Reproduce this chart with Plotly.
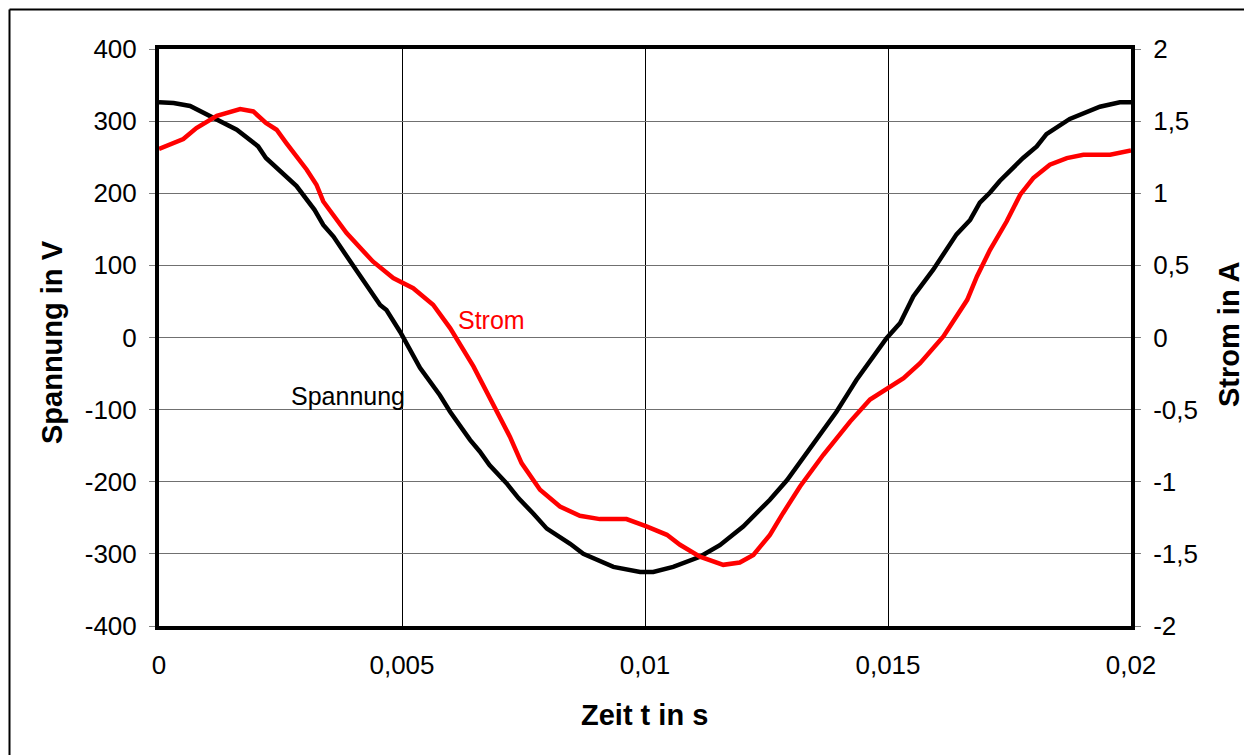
import plotly.graph_objects as go

# ---------------- data ----------------
zeit_spannung = [0, 0.0003, 0.00064, 0.00119, 0.0016, 0.00204, 0.0022, 0.00283, 0.0032, 0.00338,
                 0.00359, 0.004, 0.00455, 0.00468, 0.00496, 0.00537, 0.00578, 0.00599, 0.0064, 0.0066,
                 0.0068, 0.00715, 0.0074, 0.0077, 0.00798, 0.00846, 0.00873, 0.00935, 0.0099, 0.01017,
                 0.01058, 0.01113, 0.01154, 0.01202, 0.01257, 0.01292, 0.01353, 0.01394, 0.01422, 0.01435,
                 0.01497, 0.01525, 0.01552, 0.01593, 0.01641, 0.01669, 0.01689, 0.0171, 0.0173, 0.01778,
                 0.01806, 0.01826, 0.01874, 0.01936, 0.01977, 0.02]
spannung = [326, 325, 321, 303, 288, 265, 249, 210, 177, 156,
            140, 99, 45, 38, 8, -42, -80, -103, -142, -158,
            -177, -202, -223, -244, -265, -286, -300, -318, -325, -325,
            -318, -304, -288, -262, -225, -198, -142, -103, -73, -59,
            -1, 20, 57, 94, 143, 163, 187, 201, 217, 249,
            265, 282, 303, 320, 326, 326]

zeit_strom = [0, 0.0005, 0.00077, 0.00119, 0.00167, 0.00194, 0.0022, 0.00242, 0.00262, 0.00304,
              0.00324, 0.00338, 0.00386, 0.0044, 0.00482, 0.00523, 0.00564, 0.00599, 0.00647, 0.00702,
              0.00722, 0.00746, 0.00784, 0.00825, 0.00866, 0.00907, 0.00962, 0.01003, 0.01045, 0.01072,
              0.01113, 0.01161, 0.01195, 0.01223, 0.01257, 0.01284, 0.01319, 0.01367, 0.01422, 0.01463,
              0.01497, 0.01532, 0.01566, 0.01614, 0.01663, 0.01683, 0.0171, 0.01744, 0.01772, 0.01799,
              0.01833, 0.01868, 0.01902, 0.01957, 0.02]
strom = [1.307, 1.376, 1.452, 1.537, 1.584, 1.567, 1.487, 1.44, 1.348, 1.163,
         1.059, 0.943, 0.724, 0.527, 0.412, 0.342, 0.227, 0.065, -0.2, -0.548,
         -0.687, -0.871, -1.056, -1.172, -1.236, -1.259, -1.259, -1.31, -1.368, -1.437,
         -1.519, -1.576, -1.56, -1.507, -1.368, -1.218, -1.033, -0.813, -0.583, -0.43,
         -0.36, -0.282, -0.178, 0.007, 0.261, 0.423, 0.608, 0.804, 0.99, 1.105,
         1.198, 1.244, 1.267, 1.267, 1.297]

x_tickvals = [0, 0.005, 0.01, 0.015, 0.02]
x_ticktext = ["0", "0,005", "0,01", "0,015", "0,02"]
y_tickvals = [400, 300, 200, 100, 0, -100, -200, -300, -400]
y_ticktext = ["400", "300", "200", "100", "0", "-100", "-200", "-300", "-400"]
y2_tickvals = [2, 1.5, 1, 0.5, 0, -0.5, -1, -1.5, -2]
y2_ticktext = ["2", "1,5", "1", "0,5", "0", "-0,5", "-1", "-1,5", "-2"]

# ---------------- layout geometry ----------------
W, H = 1252, 755
OFF = 8  # page body margin: figure is drawn 8px right/down in the window
# target screen pixel positions of the plot area
SL, SR, ST, SB = 159, 1131, 49, 626
L, R, T, B = SL - OFF, SR - OFF, ST - OFF, SB - OFF
FONT = "Liberation Sans, Arial, sans-serif"


def px_x(p):  # screen pixel -> paper
    return (p - OFF - L) / (R - L)


def px_y(p):
    return (B - (p - OFF)) / (B - T)


fig = go.Figure()
fig.add_trace(go.Scatter(x=zeit_spannung, y=spannung, mode="lines", name="Spannung",
                         line=dict(color="black", width=4.5), yaxis="y"))
fig.add_trace(go.Scatter(x=zeit_strom, y=strom, mode="lines", name="Strom",
                         line=dict(color="#ff0000", width=4.5), yaxis="y2"))

fig.update_layout(
    width=W, height=H, autosize=False,
    margin=dict(l=L, r=W - R, t=T, b=H - B, pad=0),
    paper_bgcolor="white", plot_bgcolor="white",
    showlegend=False,
    font=dict(family=FONT, size=26, color="black"),
    xaxis=dict(range=[0, 0.02], tickvals=x_tickvals, ticktext=x_ticktext,
               showgrid=True, gridcolor="black", gridwidth=1,
               showline=True, linecolor="black", linewidth=4, mirror=True,
               ticks="", ticklabelstandoff=13, zeroline=False,
               tickfont=dict(size=26)),
    yaxis=dict(range=[-400, 400], tickvals=y_tickvals, ticktext=y_ticktext,
               showgrid=True, gridcolor="#707070", gridwidth=1,
               showline=True, linecolor="black", linewidth=4, mirror=True,
               ticks="outside", ticklen=6, tickcolor="#808080", tickwidth=1,
               ticklabelstandoff=7, zeroline=False,
               tickfont=dict(size=26)),
    yaxis2=dict(range=[-2, 2], tickvals=y2_tickvals, ticktext=y2_ticktext,
                overlaying="y", side="right", showgrid=False,
                showline=True, linecolor="black", linewidth=4,
                ticks="outside", ticklen=6, tickcolor="#808080", tickwidth=1,
                ticklabelstandoff=7, zeroline=False,
                tickfont=dict(size=26)),
)

annotations = [
    dict(text="Spannung in V", x=px_x(52), y=px_y(342), textangle=-90,
         font=dict(size=29, family=FONT, weight="bold")),
    dict(text="Strom in A", x=px_x(1229), y=px_y(334), textangle=-90,
         font=dict(size=29, family=FONT, weight="bold")),
    dict(text="Zeit t in s", x=px_x(644), y=px_y(715),
         font=dict(size=29, family=FONT, weight="bold")),
    dict(text="Strom", x=px_x(491), y=px_y(320),
         font=dict(size=25, family=FONT, color="#ff0000")),
    dict(text="Spannung", x=px_x(348), y=px_y(396),
         font=dict(size=25, family=FONT, color="black")),
]
for a in annotations:
    a.update(xref="paper", yref="paper", showarrow=False, xanchor="center", yanchor="middle")
fig.update_layout(annotations=annotations)

# outer frame (left and top edges visible); top edge kept inside the figure area
FRAME_TOP = OFF + 1.5
fig.add_shape(type="line", xref="paper", yref="paper",
              x0=px_x(9.5), x1=px_x(9.5), y0=px_y(FRAME_TOP), y1=px_y(770),
              line=dict(color="black", width=2))
fig.add_shape(type="line", xref="paper", yref="paper",
              x0=px_x(9.5), x1=px_x(1270), y0=px_y(FRAME_TOP), y1=px_y(FRAME_TOP),
              line=dict(color="black", width=2))

fig.write_html("out.html")
